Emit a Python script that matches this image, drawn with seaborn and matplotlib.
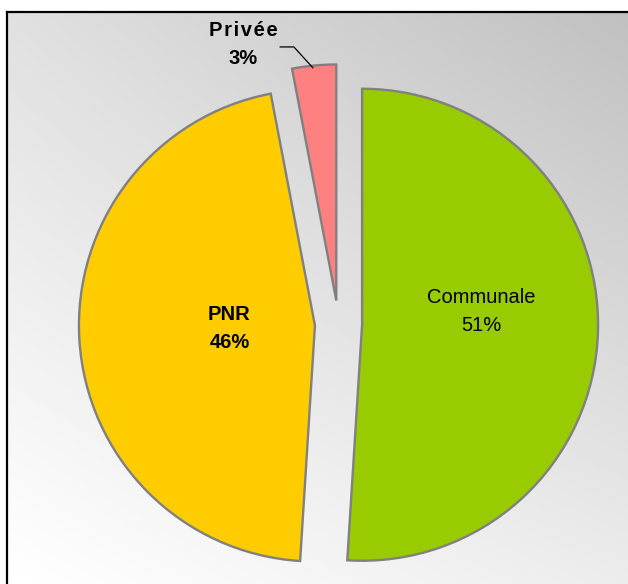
import numpy as np
import matplotlib
matplotlib.use("Agg")
import matplotlib.pyplot as plt
import seaborn as sns

# Data
labels = ["Communale", "PNR", "P\u200ar\u200ai\u200av\u200aé\u200ae"]
shares = [51, 46, 3]
colors = ["#99CC00", "#FFCC00", "#FF8080"]
bold_labels = [False, True, True]

sns.set_style("white")
plt.rcParams['font.family'] = ['Liberation Sans', 'DejaVu Sans']

fig = plt.figure(figsize=(6.28, 5.84), dpi=100)

# -----------------------------
# Background frame with gradient
# -----------------------------
bg = fig.add_axes([7 / 628, 0, 1 - 7 / 628, (584 - 12) / 584], zorder=0)
u = np.linspace(0, 1, 300)
v = np.linspace(0, 1, 300)
U, V = np.meshgrid(u, v)  # V = 0 at top
tl, tr, bl, br = 224, 192, 255, 236
grad = (tl * (1 - U) * (1 - V) + tr * U * (1 - V)
        + bl * (1 - U) * V + br * U * V) / 255
bg.imshow(grad, cmap="gray", vmin=0, vmax=1, aspect="auto",
          extent=[0, 1, 0, 1], origin="upper")
bg.set_xticks([])
bg.set_yticks([])
for side in ["right", "bottom"]:
    bg.spines[side].set_visible(False)
for side in ["left", "top"]:
    bg.spines[side].set_color("black")
    bg.spines[side].set_linewidth(1.6)

# -----------------------------
# Pie
# -----------------------------
cx, cy, rad = 338.5, 324, 236
size = rad * 2.4
ax = fig.add_axes([(cx - size / 2) / 628, (584 - cy - size / 2) / 584,
                   size / 628, size / 584], zorder=1)
ax.patch.set_alpha(0)

ax.pie(
    shares,
    colors=colors,
    startangle=90,
    counterclock=False,
    explode=[0.1] * len(shares),
    wedgeprops=dict(edgecolor="#808080", linewidth=1.7),
)
ax.set_xlim(-1.2, 1.2)
ax.set_ylim(-1.2, 1.2)
ax.axis("off")

# Labels
label_pos = [(0.606, 0.055), (-0.462, -0.021), (-0.405, 1.186)]
for name, val, (x, y), bold in zip(labels, shares, label_pos, bold_labels):
    ax.text(x, y, f"{name}\n{val}%", ha="center", va="center",
            fontsize=14.5, fontweight="bold" if bold else "normal",
            linespacing=1.6, color="black")

# Leader line for Privée
ax.plot([-0.248, -0.189, -0.108], [1.174, 1.174, 1.085],
        color="black", linewidth=0.9, clip_on=False)

plt.savefig("out.png", dpi=100)
